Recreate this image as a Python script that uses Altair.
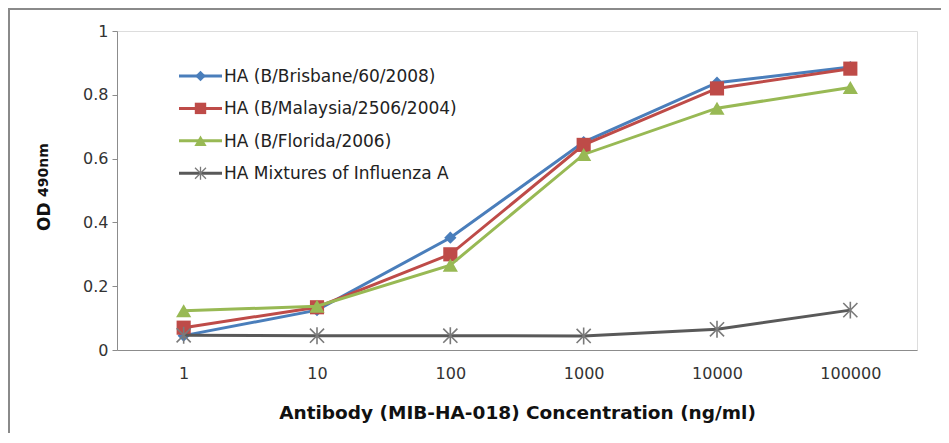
import altair as alt
import pandas as pd

conc = ["1", "10", "100", "1000", "10000", "100000"]
series = [
    "HA (B/Brisbane/60/2008)",
    "HA (B/Malaysia/2506/2004)",
    "HA (B/Florida/2006)",
    "HA Mixtures of Influenza A",
]
brisbane = [0.045, 0.125, 0.352, 0.652, 0.838, 0.887]
malaysia = [0.070, 0.134, 0.300, 0.643, 0.820, 0.882]
florida = [0.123, 0.137, 0.266, 0.613, 0.758, 0.823]
mixtures = [0.046, 0.045, 0.045, 0.044, 0.065, 0.125]
values = [brisbane, malaysia, florida, mixtures]
y_ticks = [0, 0.2, 0.4, 0.6, 0.8, 1]

colors = ["#4a7ebb", "#be4b48", "#98b954", "#595959"]
marker_colors = ["#4a7ebb", "#be4b48", "#98b954", "#7a7a7a"]
STAR = "M-1,-1L1,1M-1,1L1,-1M0,-1.2L0,1.2"
shapes = ["diamond", "square", "triangle-up", STAR]
sizes = [150, 200, 230, 200]
leg_sizes = [110, 130, 150, 120]

FONT = "DejaVu Sans"
W, H = 800, 319

rows = []
for s, vals in zip(series, values):
    for c, v in zip(conc, vals):
        rows.append({"series": s, "conc": c, "od": v})
df = pd.DataFrame(rows)

x_enc = alt.X(
    "conc:N",
    sort=conc,
    scale=alt.Scale(type="point", padding=0.5),
    axis=alt.Axis(
        title="Antibody (MIB-HA-018) Concentration (ng/ml)",
        ticks=False,
        labelAngle=0,
        labelFontSize=16,
        labelFont=FONT,
        labelColor="#333333",
        labelPadding=15,
        domainColor="#8c8c8c",
        domainWidth=1,
        titleFont=FONT,
        titleFontSize=18.5,
        titleFontWeight="bold",
        titleColor="#111111",
        titlePadding=22,
        grid=False,
    ),
)
y_enc = alt.Y(
    "od:Q",
    scale=alt.Scale(domain=[0, 1], nice=False),
    axis=alt.Axis(
        title=None,
        values=y_ticks,
        labelExpr="toString(datum.value)",
        tickSize=5,
        tickColor="#8c8c8c",
        domainColor="#8c8c8c",
        labelFontSize=16,
        labelFont=FONT,
        labelColor="#333333",
        labelPadding=4,
        grid=False,
    ),
)

layers = []
for i, s in enumerate(series):
    base = alt.Chart(df).transform_filter(alt.datum.series == s)
    layers.append(
        base.mark_line(color=colors[i], strokeWidth=3).encode(x=x_enc, y=y_enc)
    )
    if i == 3:
        pt = base.mark_point(
            shape=shapes[i], size=sizes[i], filled=False,
            stroke=marker_colors[i], strokeWidth=1.6, opacity=1,
        )
    else:
        pt = base.mark_point(
            shape=shapes[i], size=sizes[i], filled=True,
            color=marker_colors[i], opacity=1,
        )
    layers.append(pt.encode(x=x_enc, y=y_enc))

# legend (manual, inside plot)
leg_df = pd.DataFrame({"label": series})
for i, s in enumerate(series):
    ly = 45 + 32.4 * i
    lb = alt.Chart(leg_df).transform_filter(alt.datum.label == s)
    layers.append(
        lb.mark_rule(color=colors[i], strokeWidth=3).encode(
            x=alt.value(62), x2=alt.value(105), y=alt.value(ly)
        )
    )
    if i == 3:
        lp = lb.mark_point(shape=shapes[i], size=leg_sizes[i], filled=False,
                           stroke=marker_colors[i], strokeWidth=1.3, opacity=1)
    else:
        lp = lb.mark_point(shape=shapes[i], size=leg_sizes[i], filled=True,
                           color=marker_colors[i], opacity=1)
    layers.append(lp.encode(x=alt.value(83.5), y=alt.value(ly)))
    layers.append(
        lb.mark_text(align="left", baseline="middle", font=FONT, fontSize=17,
                     color="#222222").encode(
            x=alt.value(107), y=alt.value(ly + 1), text="label:N"
        )
    )

# y-axis title "OD 490nm"
ttl = pd.DataFrame({"t": ["OD", "490nm"]})
layers.append(
    alt.Chart(ttl).transform_filter(alt.datum.t == "OD").mark_text(
        angle=270, align="left", baseline="middle", font=FONT, fontSize=17,
        fontWeight="bold", color="#111111"
    ).encode(x=alt.value(-72), y=alt.value(200), text="t:N")
)
layers.append(
    alt.Chart(ttl).transform_filter(alt.datum.t == "490nm").mark_text(
        angle=270, align="left", baseline="middle", font=FONT, fontSize=14,
        fontWeight="bold", color="#111111"
    ).encode(x=alt.value(-73), y=alt.value(166), text="t:N")
)

# outer frame
frame = pd.DataFrame({"f": [0]})
layers.append(
    alt.Chart(frame).mark_rule(color="#8a8a8a", strokeWidth=2).encode(
        x=alt.value(-108), y=alt.value(-22), y2=alt.value(420)
    )
)
layers.append(
    alt.Chart(frame).mark_rule(color="#8a8a8a", strokeWidth=2).encode(
        x=alt.value(-109), x2=alt.value(840), y=alt.value(-22)
    )
)

chart = alt.layer(*layers).properties(
    width=W,
    height=H,
    padding={"left": 109, "top": 23, "right": 24, "bottom": 83},
    autosize="none",
).configure_view(stroke=None).configure(background="white")

chart.save("out.html", embed_options={"renderer": "svg", "actions": False})
